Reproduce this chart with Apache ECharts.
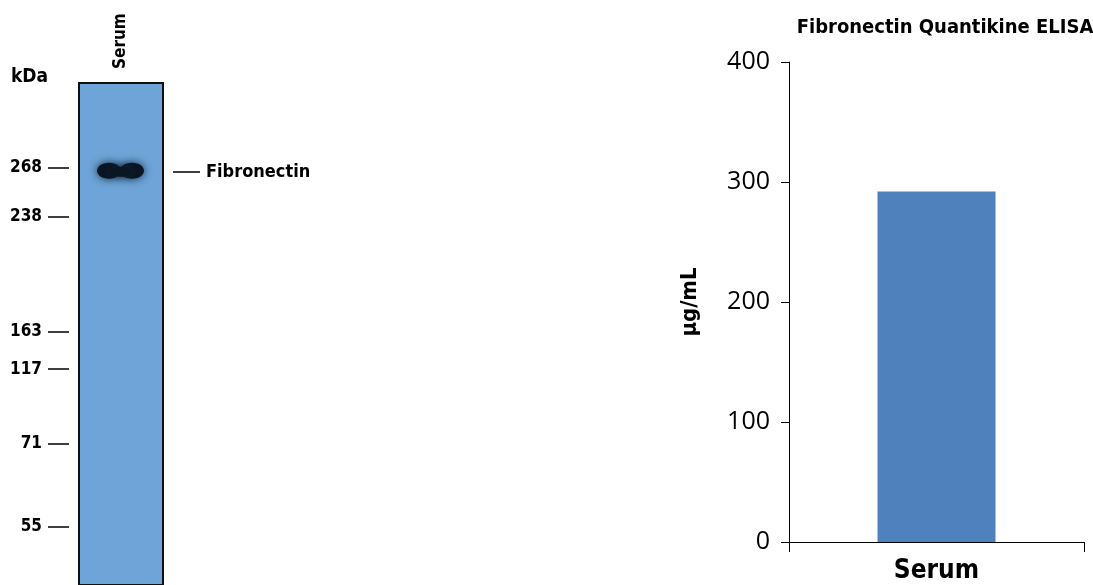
<!DOCTYPE html>
<html>
<head>
<meta charset="utf-8">
<script src="https://cdn.jsdelivr.net/npm/echarts@6/dist/echarts.min.js"></script>
<style>
  html, body { margin: 0; padding: 0; background: #fff; }
  #chart { width: 1093px; height: 585px; }
</style>
</head>
<body>
<div id="chart"></div>
<script>
// western blot lane + markers (relative migration, 0 = top of lane)
const laneNames = ["Serum"];
const markerLabels = ["268", "238", "163", "117", "71", "55"];
const markerRf = [0.169, 0.267, 0.496, 0.570, 0.719, 0.883];
const bandName = ["Fibronectin"];
const bandRf = [0.177];

// ELISA bar chart
const categories = ["Serum"];
const values = [292];

const condensed = '"Liberation Sans Narrow", "DejaVu Sans Condensed", "Roboto Condensed", sans-serif';

const chartDom = document.getElementById("chart");
const myChart = echarts.init(chartDom);

const options = {
  animation: false,
  title: [
    {
      text: "Fibronectin Quantikine ELISA",
      left: 940,
      top: 13,
      textAlign: "center",
      textStyle: { fontFamily: condensed, fontWeight: "bold", fontSize: 20, color: "#000" },
    },
    {
      text: "kDa",
      left: 6,
      top: 63,
      textStyle: { fontFamily: condensed, fontWeight: "bold", fontSize: 19, color: "#000" },
    },
  ],
  grid: [
    { left: 789, right: 9, top: 62, bottom: 43, containLabel: false },
    {
      left: 79, top: 83, width: 84, height: 502,
      show: true, backgroundColor: "#6ea4d7", borderColor: "#111", borderWidth: 2,
    },
  ],
  xAxis: [
    {
      type: "category",
      gridIndex: 0,
      data: categories,
      axisLine: { lineStyle: { color: "#000", width: 1 } },
      axisTick: { show: true, length: 10, lineStyle: { color: "#000" } },
      axisLabel: { fontFamily: condensed, fontWeight: "bold", fontSize: 26, color: "#000", margin: 16 },
    },
    {
      type: "category",
      gridIndex: 1,
      position: "top",
      data: laneNames,
      axisLine: { show: false },
      axisTick: { show: false },
      axisLabel: { rotate: 90, fontFamily: condensed, fontWeight: "bold", fontSize: 17, color: "#000", margin: 14 },
    },
  ],
  yAxis: [
    {
      type: "value",
      gridIndex: 0,
      min: 0,
      max: 400,
      interval: 100,
      name: "µg/mL",
      nameLocation: "middle",
      nameGap: 88,
      nameTextStyle: { fontFamily: condensed, fontWeight: "bold", fontSize: 22, color: "#000" },
      axisLine: { show: true, lineStyle: { color: "#000", width: 1 } },
      axisTick: { show: true, length: 8, lineStyle: { color: "#000" } },
      axisLabel: { fontFamily: "Open Sans", fontSize: 25, color: "#000", margin: 19 },
      splitLine: { show: false },
    },
    {
      type: "value",
      gridIndex: 1,
      min: 0,
      max: 1,
      inverse: true,
      position: "left",
      offset: 10,
      axisLine: { show: false },
      axisTick: { show: true, customValues: markerRf, length: 21, lineStyle: { color: "#000", width: 1.5 } },
      axisLabel: {
        customValues: markerRf,
        formatter: (v) => {
          const i = markerRf.indexOf(v);
          return i >= 0 ? markerLabels[i] : "";
        },
        fontFamily: condensed, fontWeight: "bold", fontSize: 17, color: "#000", margin: 27,
      },
      splitLine: { show: false },
    },
    {
      type: "value",
      gridIndex: 1,
      min: 0,
      max: 1,
      inverse: true,
      position: "right",
      offset: 10,
      axisLine: { show: false },
      axisTick: { show: true, customValues: bandRf, length: 27, lineStyle: { color: "#000", width: 1.5 } },
      axisLabel: {
        customValues: bandRf,
        formatter: () => bandName[0],
        fontFamily: condensed, fontWeight: "bold", fontSize: 18, color: "#000", margin: 33,
      },
      splitLine: { show: false },
    },
  ],
  series: [
    {
      name: "Fibronectin",
      type: "bar",
      xAxisIndex: 0,
      yAxisIndex: 0,
      barWidth: "40%",
      data: values,
      itemStyle: { color: "#4f81bd" },
    },
    {
      name: "Band",
      type: "custom",
      xAxisIndex: 1,
      yAxisIndex: 1,
      data: laneNames.map((n, i) => [n, bandRf[i]]),
      renderItem: (params, api) => {
        const c = api.coord([api.value(0), api.value(1)]);
        const style = { fill: "#0a1622", shadowBlur: 8, shadowColor: "#10283c" };
        return {
          type: "group",
          children: [
            { type: "ellipse", shape: { cx: c[0] - 12, cy: c[1] - 1, rx: 12, ry: 8 }, style },
            { type: "ellipse", shape: { cx: c[0] + 11, cy: c[1] - 1, rx: 12, ry: 8 }, style },
            { type: "ellipse", shape: { cx: c[0], cy: c[1], rx: 10, ry: 5 }, style },
          ],
        };
      },
    },
  ],
};

myChart.setOption(options);
</script>
</body>
</html>
